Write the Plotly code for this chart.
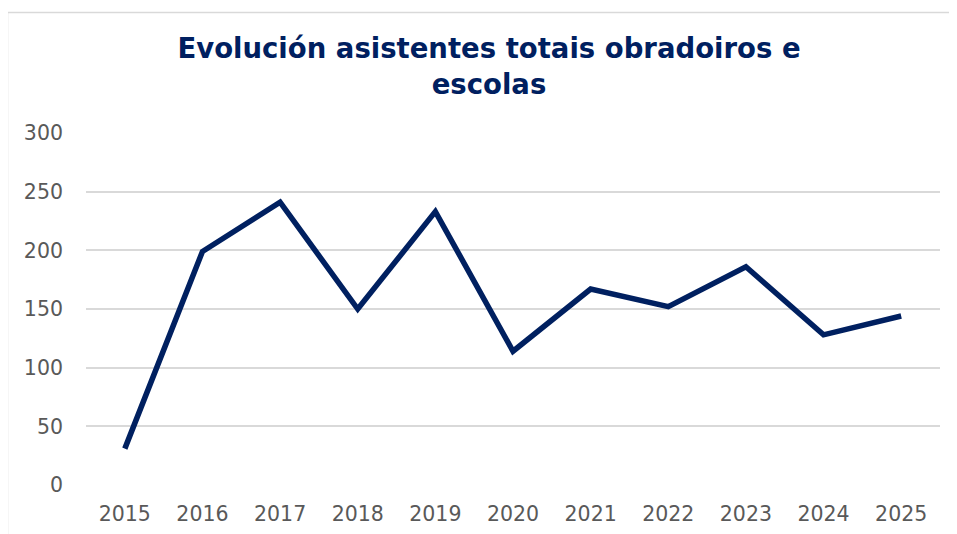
import plotly.graph_objects as go

years = ["2015", "2016", "2017", "2018", "2019", "2020", "2021", "2022", "2023", "2024", "2025"]
asistentes = [31, 199, 241, 150, 233, 114, 167, 152, 186, 128, 144]
y_ticks = [0, 50, 100, 150, 200, 250, 300]

title_text = "Evolución asistentes totais obradoiros e<br>escolas"
navy = "#002060"

fig = go.Figure()
fig.add_trace(go.Scatter(
    x=years, y=asistentes, mode="lines",
    line=dict(color=navy, width=5.5, shape="linear"),
    hoverinfo="x+y", showlegend=False,
))

OFF = 8  # default page body margin
W, H = 957, 534
# plot area in page pixels: x 86..940, y 133..485
ml = 86 - OFF
mt = 133 - OFF
pw, ph = 854, 352
mr = W - ml - pw
mb = H - mt - ph

def px_to_paper_x(px):
    return (px - OFF - ml) / pw

def px_to_paper_y(py):
    return (mt + ph - (py - OFF)) / ph

fig.add_shape(
    type="rect", xref="paper", yref="paper",
    x0=px_to_paper_x(7.5), x1=px_to_paper_x(W + 20),
    y0=px_to_paper_y(H + 20), y1=px_to_paper_y(12.5),
    line=dict(color="#d9d9d9", width=1.5), fillcolor="rgba(0,0,0,0)", layer="below",
)

fig.update_layout(
    width=W, height=H,
    margin=dict(l=ml, r=mr, t=mt, b=mb, pad=0),
    paper_bgcolor="white", plot_bgcolor="white",
    font=dict(family="DejaVu Sans, Verdana, sans-serif", color="#595959", size=20.5),
    title=dict(
        text=title_text, x=(489 - OFF) / W, xanchor="center",
        y=1 - 50 / H, yanchor="top",
        font=dict(family="DejaVu Sans, Verdana, sans-serif", size=27.5, color=navy, weight="bold"),
    ),
    xaxis=dict(
        type="category", categoryorder="array", categoryarray=years,
        range=[-0.5, len(years) - 0.5],
        showgrid=False, zeroline=False, showline=False,
        ticks="", ticklabelstandoff=14,
        tickfont=dict(size=20.5, color="#595959"),
    ),
    yaxis=dict(
        range=[0, 300], tickvals=y_ticks,
        showgrid=True, gridcolor="#d9d9d9", gridwidth=1.5,
        zeroline=False, showline=False,
        ticks="", ticklabelstandoff=22,
        tickfont=dict(size=20.5, color="#595959"),
    ),
)

fig.write_html("out.html")
